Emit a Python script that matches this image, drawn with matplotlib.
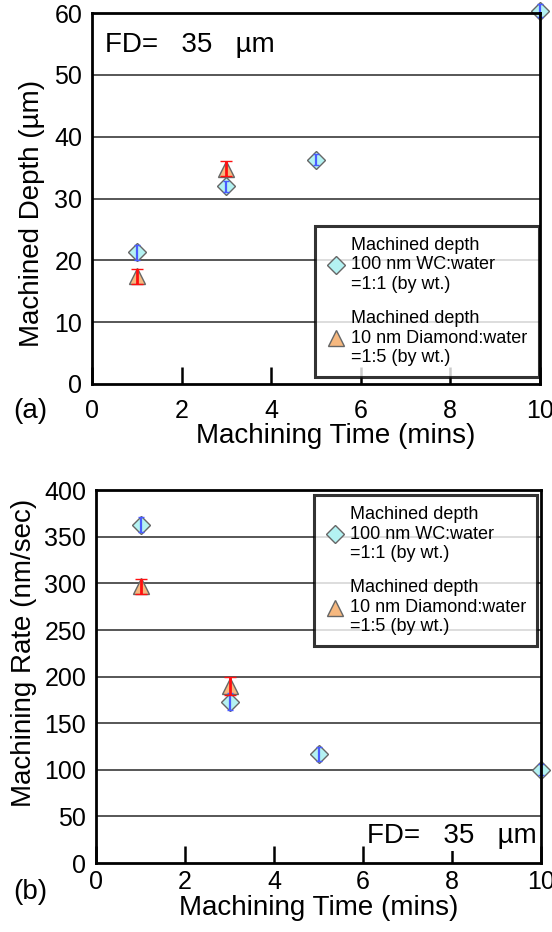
import matplotlib
matplotlib.use('Agg')
import matplotlib.pyplot as plt

plt.rcParams['font.family'] = ['Liberation Sans', 'DejaVu Sans']

# data
time_wc = [1, 3, 5, 10]
depth_wc = [21.3, 32.0, 36.3, 60.4]
depth_wc_err = [1.2, 0.9, 0.9, 1.0]
time_dia = [1, 3]
depth_dia = [17.4, 34.8]
depth_dia_err = [1.2, 1.2]

rate_wc = [363, 173, 117, 100]
rate_wc_err = [8, 9, 7, 6]
rate_dia = [297, 190]
rate_dia_err = [8, 10]

xticks = [0, 2, 4, 6, 8, 10]
depth_ticks = [0, 10, 20, 30, 40, 50, 60]
rate_ticks = [0, 50, 100, 150, 200, 250, 300, 350, 400]

wc_label = 'Machined depth\n100 nm WC:water\n=1:1 (by wt.)'
dia_label = 'Machined depth\n10 nm Diamond:water\n=1:5 (by wt.)'
fd_text = 'FD=   35   \u00b5m'

diamond_face = '#b4f2f2'
tri_face = '#f6b87f'
tick_fs = 18
label_fs = 20


def style_axes(ax, yticks, xpad):
    ax.set_xlim(0, 10)
    ax.set_ylim(yticks[0], yticks[-1])
    ax.set_xticks(xticks)
    ax.set_yticks(yticks)
    for y in yticks[1:-1]:
        ax.axhline(y, color='#3a3a3a', lw=1.2, zorder=1)
    for s in ax.spines.values():
        s.set_linewidth(2)
        s.set_zorder(12)
    ax.tick_params(axis='x', direction='in', length=12, width=1.8, labelsize=tick_fs, pad=xpad)
    ax.tick_params(axis='y', length=0, labelsize=tick_fs, pad=7)


def draw_series(ax, wc, wc_err, dia, dia_err):
    h1 = ax.errorbar(time_wc, wc, yerr=wc_err, fmt='D', ms=9, mfc=diamond_face, mec='#666666',
                     mew=1, ecolor='#4a5cff', elinewidth=1.6, capsize=2.5, capthick=1.6,
                     clip_on=False, label=wc_label)
    h2 = ax.errorbar(time_dia, dia, yerr=dia_err, fmt='^', ms=11, mfc=tri_face, mec='#666666',
                     mew=1, ecolor='#ff1010', elinewidth=2, capsize=4, capthick=2,
                     clip_on=False, label=dia_label)
    # error bars sit on top of the markers, like in the original
    for h in (h1, h2):
        h[0].set_zorder(5)
        for c in h[1] + h[2]:
            c.set_clip_on(False)
            c.set_zorder(6)
    return h1, h2


def add_legend(ax, h1, h2, loc, anchor):
    leg = ax.legend([h1[0], h2[0]], [wc_label, dia_label], loc=loc, bbox_to_anchor=anchor,
                    fontsize=13, frameon=True, fancybox=False, handletextpad=0.3,
                    handlelength=1.1, borderpad=0.6, labelspacing=0.95, borderaxespad=0)
    leg.get_frame().set_edgecolor('black')
    leg.get_frame().set_linewidth(2.2)
    leg.set_zorder(10)


fig = plt.figure(figsize=(5.52, 9.32), dpi=100)

# (a) machined depth
ax1 = fig.add_axes([0.1667, 0.588, 0.8113, 0.398])
style_axes(ax1, depth_ticks, 11)
h1, h2 = draw_series(ax1, depth_wc, depth_wc_err, depth_dia, depth_dia_err)
add_legend(ax1, h1, h2, 'lower right', (0.997, 0.019))
ax1.text(0.029, 0.914, fd_text, transform=ax1.transAxes, fontsize=label_fs,
         ha='left', va='center', zorder=6)
ax1.set_ylabel('Machined Depth (\u00b5m)', fontsize=label_fs)
ax1.yaxis.set_label_coords(-0.105, 0.46)
ax1.set_xlabel('Machining Time (mins)', fontsize=label_fs)
ax1.xaxis.set_label_coords(0.545, -0.105)
fig.text(0.024, 0.559, '(a)', fontsize=label_fs, ha='left', va='center')

# (b) machining rate
ax2 = fig.add_axes([0.174, 0.074, 0.806, 0.40])
style_axes(ax2, rate_ticks, 5)
h1, h2 = draw_series(ax2, rate_wc, rate_wc_err, rate_dia, rate_dia_err)
add_legend(ax2, h1, h2, 'upper right', (0.991, 0.987))
ax2.text(0.99, 0.072, fd_text, transform=ax2.transAxes, fontsize=label_fs,
         ha='right', va='center', zorder=6,
         bbox=dict(facecolor='white', edgecolor='none', pad=1))
ax2.set_ylabel('Machining Rate (nm/sec)', fontsize=label_fs)
ax2.yaxis.set_label_coords(-0.133, 0.563)
ax2.set_xlabel('Machining Time (mins)', fontsize=label_fs)
ax2.xaxis.set_label_coords(0.5, -0.085)
fig.text(0.024, 0.043, '(b)', fontsize=label_fs, ha='left', va='center')

fig.savefig('out.png', dpi=100)
